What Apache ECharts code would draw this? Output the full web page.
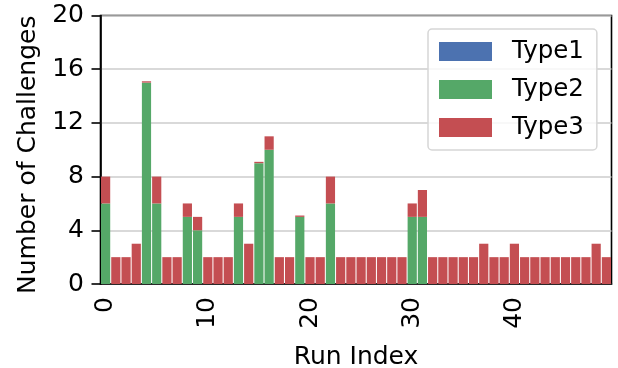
<!DOCTYPE html>
<html>
<head>
<meta charset="utf-8">
<script src="https://cdn.jsdelivr.net/npm/echarts@6/dist/echarts.min.js"></script>
<style>html,body{margin:0;padding:0;background:#fff;}#chart{width:618px;height:368px;}</style>
</head>
<body>
<div id="chart"></div>
<script>
const runIndex = Array.from({length: 50}, (_, i) => String(i));
const type1 = [0,0,0,0,0,0,0,0,0,0, 0,0,0,0,0,0,0,0,0,0, 0,0,0,0,0,0,0,0,0,0, 0,0,0,0,0,0,0,0,0,0, 0,0,0,0,0,0,0,0,0,0];
const type2 = [6,0,0,0,15,6,0,0,5,4, 0,0,0,5,0,9,10,0,0,5, 0,0,6,0,0,0,0,0,0,0, 5,5,0,0,0,0,0,0,0,0, 0,0,0,0,0,0,0,0,0,0];
const type3 = [2,2,2,3,0.1,2,2,2,1,1, 2,2,2,1,3,0.1,1,2,2,0.1, 2,2,2,2,2,2,2,2,2,2, 1,2,2,2,2,2,2,3,2,2, 3,2,2,2,2,2,2,2,3,2];
const yTicks = {min: 0, max: 20, interval: 4};
const seriesNames = ['Type1', 'Type2', 'Type3'];
const colors = ['#4C72B0', '#55A868', '#C44E52'];

const FONT = 'DejaVu Sans';
const FS = 25;
const LFS = 24.5;
const chart = echarts.init(document.getElementById('chart'), null, {renderer: 'canvas'});
const showTick = (i) => i % 10 === 0;
const mk = (name, data, color) => ({
  name, type: 'bar', stack: 'all', data,
  itemStyle: {color},
  barCategoryGap: '10%',
  animation: false
});
chart.setOption({
  animation: false,
  textStyle: {fontFamily: FONT},
  grid: {left: 100.5, right: 6.5, top: 15.5, bottom: 84, containLabel: false, outerBoundsMode: 'none', show: true, borderColor: '#000', borderWidth: 1.6, backgroundColor: 'transparent'},
  legend: {
    data: seriesNames,
    orient: 'vertical',
    left: 428, top: 29,
    itemWidth: 53, itemHeight: 19, itemGap: 13,
    padding: [10, 13, 10, 11],
    backgroundColor: 'rgba(255,255,255,0.8)',
    borderColor: '#d6d6d6', borderWidth: 1.5, borderRadius: 4,
    icon: 'rect',
    textStyle: {fontFamily: FONT, fontSize: LFS, color: '#000', lineHeight: 19, padding: [0, 0, 0, 15]}
  },
  xAxis: {
    type: 'category', data: runIndex,
    name: 'Run Index', nameLocation: 'middle', nameGap: 61,
    nameTextStyle: {fontFamily: FONT, fontSize: FS, color: '#000'},
    axisLine: {lineStyle: {color: '#000', width: 1.6}},
    axisTick: {alignWithLabel: true, interval: showTick, length: 9, lineStyle: {color: '#000', width: 1.6}},
    axisLabel: {interval: showTick, rotate: 90, margin: 13, fontFamily: FONT, fontSize: FS, color: '#000'},
    splitLine: {show: false}
  },
  yAxis: {
    type: 'value', min: yTicks.min, max: yTicks.max, interval: yTicks.interval,
    name: 'Number of Challenges', nameLocation: 'middle', nameGap: 53,
    nameTextStyle: {fontFamily: FONT, fontSize: FS, color: '#000', padding: [0, 10, 0, 0]},
    axisLine: {show: true, lineStyle: {color: '#000', width: 1.6}},
    axisTick: {show: true, length: 9, lineStyle: {color: '#000', width: 1.6}},
    axisLabel: {margin: 16.5, fontFamily: FONT, fontSize: FS, color: '#000'},
    splitLine: {show: true, lineStyle: {color: '#cccccc', width: 1.6}}
  },
  series: [
    mk(seriesNames[0], type1, colors[0]),
    mk(seriesNames[1], type2, colors[1]),
    mk(seriesNames[2], type3, colors[2])
  ]
});
</script>
</body>
</html>
